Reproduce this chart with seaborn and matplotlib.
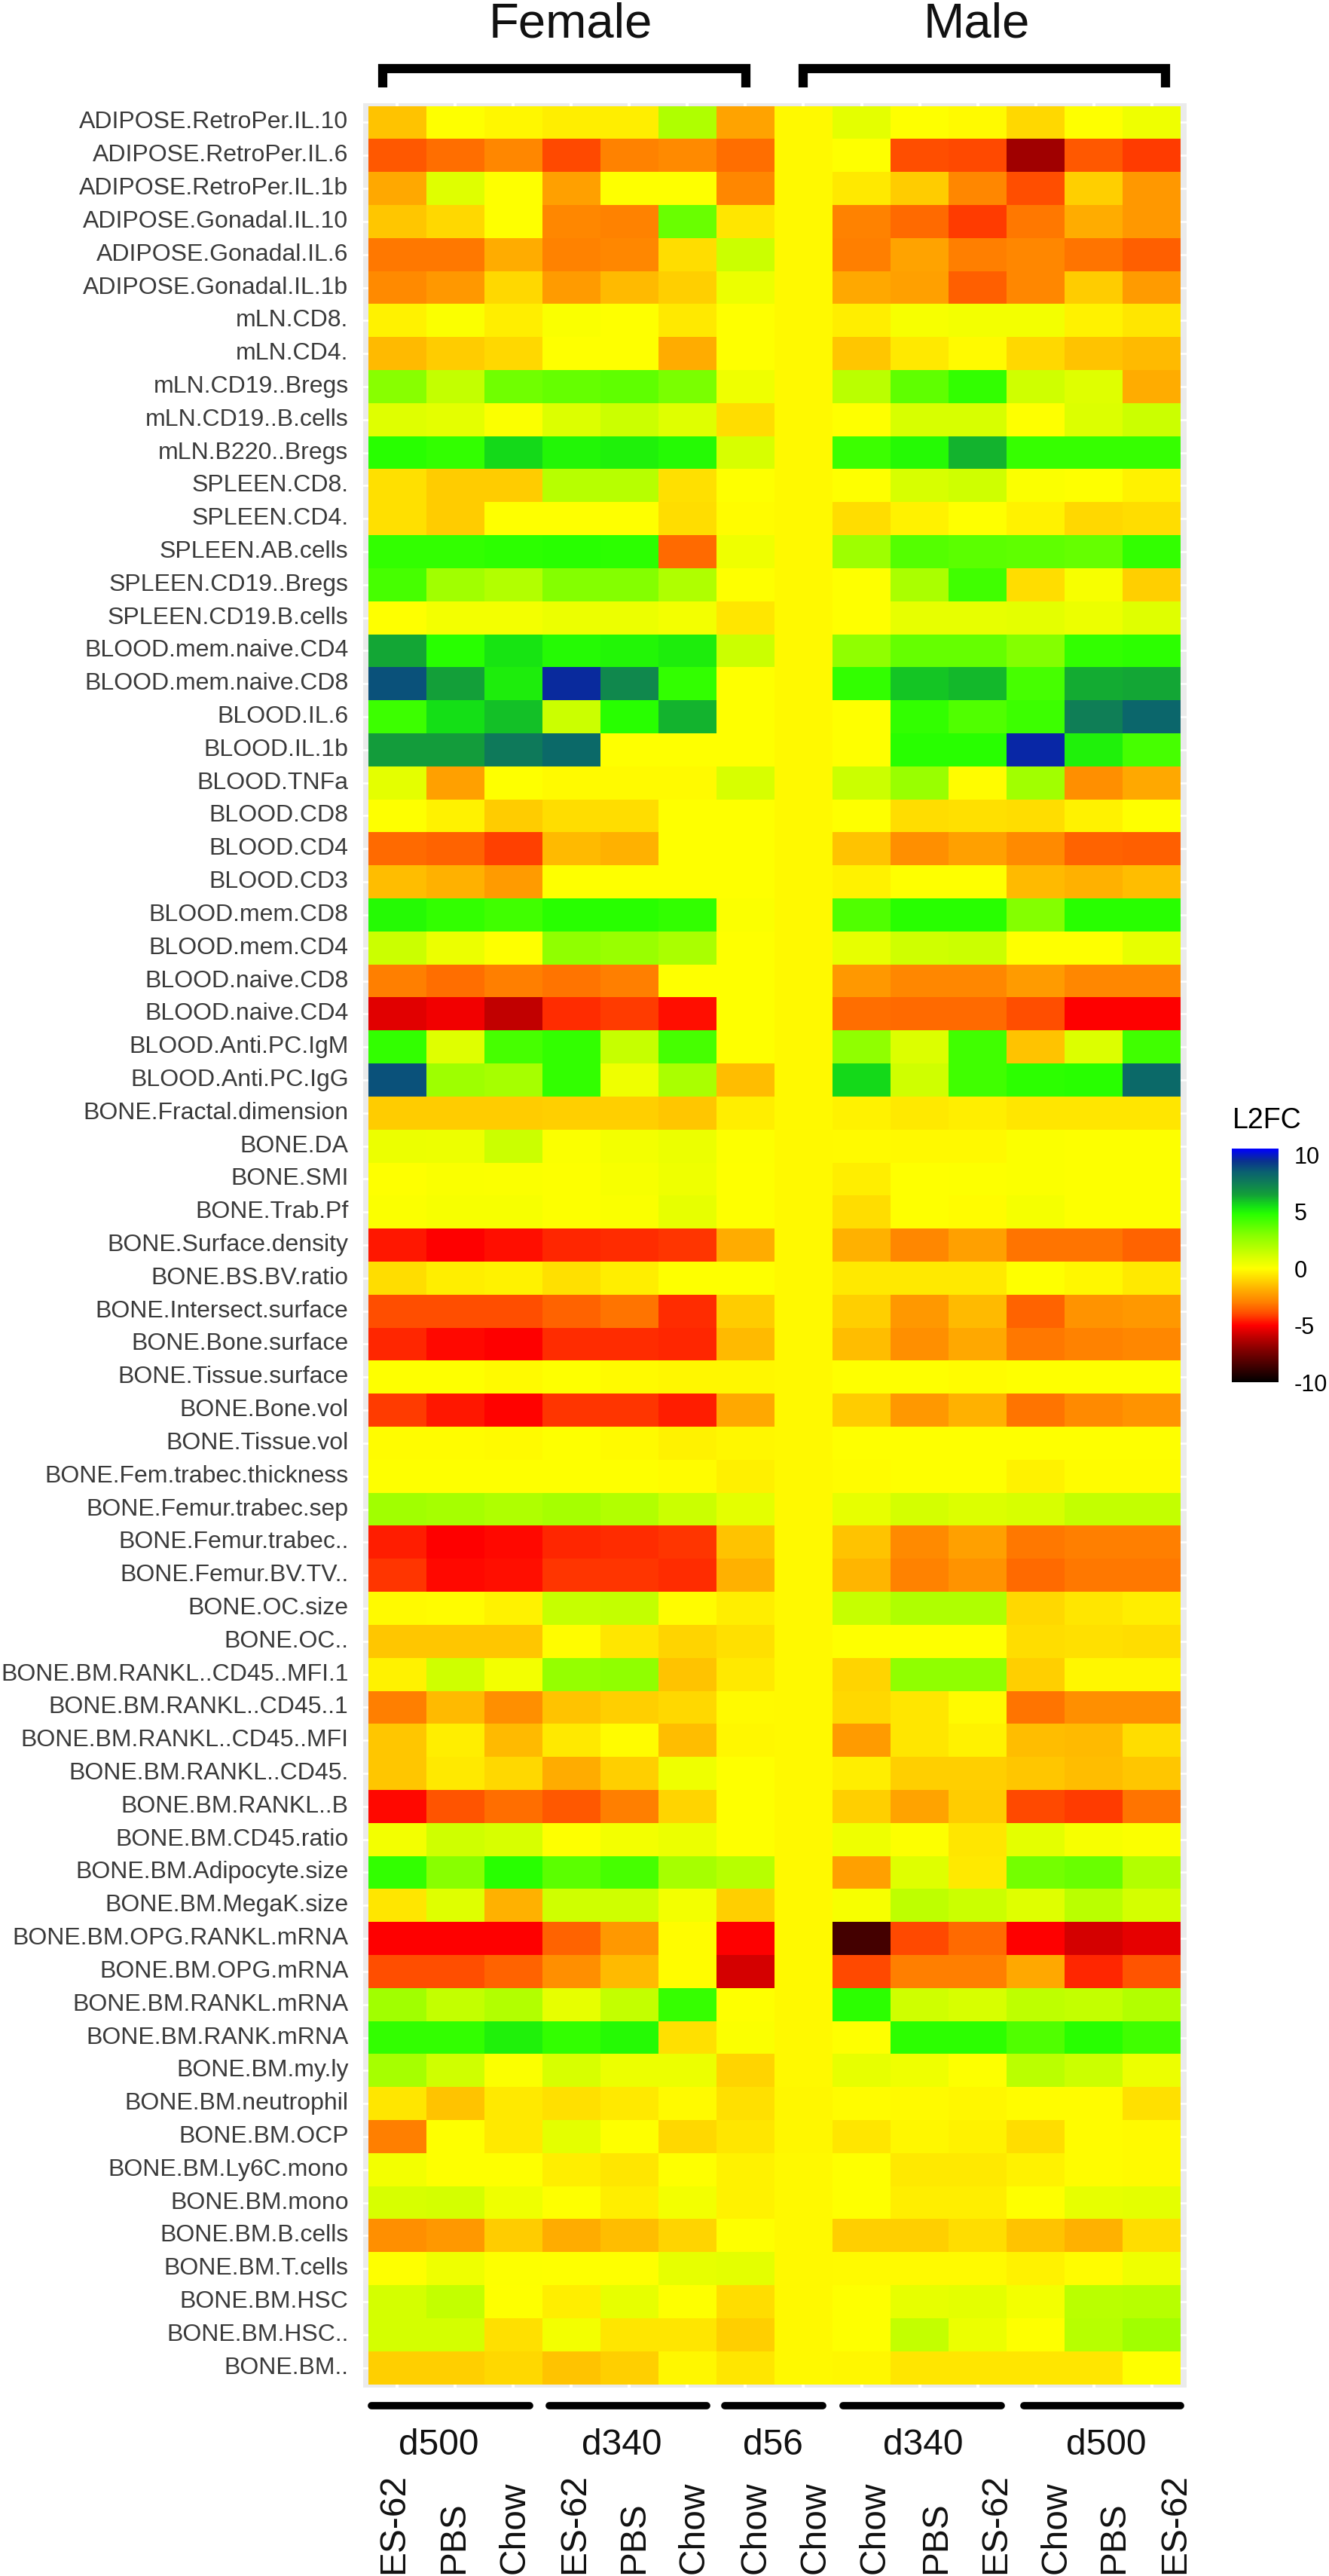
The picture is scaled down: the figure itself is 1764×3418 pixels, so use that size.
import numpy as np
import pandas as pd
import matplotlib
matplotlib.use("Agg")
import matplotlib.pyplot as plt
from matplotlib.colors import LinearSegmentedColormap
import seaborn as sns

column_keys = ["F.d500.ES62", "F.d500.PBS", "F.d500.Chow", "F.d340.ES62", "F.d340.PBS", "F.d340.Chow",
               "F.d56.Chow", "M.d56.Chow", "M.d340.Chow", "M.d340.PBS", "M.d340.ES62",
               "M.d500.Chow", "M.d500.PBS", "M.d500.ES62"]
diet_labels = ["ES-62", "PBS", "Chow", "ES-62", "PBS", "Chow", "Chow", "Chow", "Chow", "PBS", "ES-62",
               "Chow", "PBS", "ES-62"]
time_labels = ["d500", "d340", "d56", "d340", "d500"]
sex_labels = ["Female", "Male"]

adipose_labels = ["ADIPOSE.RetroPer.IL.10", "ADIPOSE.RetroPer.IL.6", "ADIPOSE.RetroPer.IL.1b",
                  "ADIPOSE.Gonadal.IL.10", "ADIPOSE.Gonadal.IL.6", "ADIPOSE.Gonadal.IL.1b"]
adipose_values = [
    [-1.4, 0, -.2, -.4, -.4, 2, -2.1, -.15, .7, 0, -.1, -.9, 0, .4],
    [-3.7, -3.3, -2.8, -4, -2.9, -2.7, -3.3, -.15, 0, -3.9, -4, -6.6, -3.7, -4.2],
    [-2, .8, 0, -2.2, 0, 0, -2.8, -.15, -.5, -1.2, -2.8, -3.9, -1.1, -2.4],
    [-1.3, -.9, 0, -2.8, -2.9, 3.5, -.6, -.15, -2.9, -3.4, -4.2, -3.1, -1.9, -2.4],
    [-3.1, -3.1, -1.9, -2.9, -2.8, -.8, 1.3, -.15, -3, -2.1, -3, -2.8, -3.2, -3.6],
    [-2.7, -2.4, -.9, -2.3, -1.6, -1.1, .5, -.15, -2, -2.2, -3.6, -2.8, -1.2, -2.3],
]
mln_labels = ["mLN.CD8.", "mLN.CD4.", "mLN.CD19..Bregs", "mLN.CD19..B.cells", "mLN.B220..Bregs"]
mln_values = [
    [-.3, .1, -.4, .15, 0, -.5, 0, -.15, -.4, .2, .3, .3, -.3, -.6],
    [-1.6, -1.2, -.9, 0, 0, -1.9, 0, -.15, -1.3, -.5, -.1, -.9, -1.4, -1.6],
    [2.9, 1.5, 3.4, 3.6, 3.7, 3.2, .4, -.15, 1.7, 3.7, 4.6, 1.2, .8, -1.9],
    [.8, .7, .1, .9, 1.3, .8, -.8, -.15, 0, 1, 1, 0, .9, 1.3],
    [4.8, 4.6, 5.6, 5, 5.1, 4.9, 1, -.15, 4.4, 4.9, 6.2, 4.5, 4.5, 4.5],
]
spleen_labels = ["SPLEEN.CD8.", "SPLEEN.CD4.", "SPLEEN.AB.cells", "SPLEEN.CD19..Bregs", "SPLEEN.CD19.B.cells"]
spleen_values = [
    [-.7, -1.2, -1.2, 1.8, 1.8, -.7, 0, -.15, 0, 1, 1.2, .1, 0, -.3],
    [-.7, -1.2, 0, 0, 0, -.8, -.05, -.15, -.8, -.3, 0, -.3, -.9, -.8],
    [4.6, 4.6, 4.7, 4.8, 4.7, -3.4, .4, -.15, 2.4, 3.9, 3.8, 3.7, 3.6, 4.6],
    [4.2, 2.3, 1.9, 3, 3, 2, 0, -.15, 0, 2.1, 4.3, -.8, .2, -1.1],
    [0, .3, .3, .5, .5, .3, -.6, -.15, 0, .6, .6, .7, .5, .8],
]
blood_labels = ["BLOOD.mem.naive.CD4", "BLOOD.mem.naive.CD8", "BLOOD.IL.6", "BLOOD.IL.1b", "BLOOD.TNFa",
                "BLOOD.CD8", "BLOOD.CD4", "BLOOD.CD3", "BLOOD.mem.CD8", "BLOOD.mem.CD4",
                "BLOOD.naive.CD8", "BLOOD.naive.CD4", "BLOOD.Anti.PC.IgM", "BLOOD.Anti.PC.IgG"]
blood_values = [
    [6.4, 4.8, 5.4, 4.9, 5, 5.2, 1.3, -.15, 2.7, 3.6, 3.6, 3, 4.6, 4.7],
    [8.8, 6.5, 5.2, 9.6, 7.2, 4.6, 0, -.15, 4.6, 5.9, 6.1, 4.2, 6.3, 6.4],
    [4.4, 5.5, 6, 1.3, 4.8, 6.2, 0, -.15, 0, 4.6, 4, 4.4, 7.5, 8.3],
    [6.6, 6.6, 7.7, 8.2, 0, 0, 0, -.15, 0, 4.8, 4.8, 9.7, 5.1, 4.2],
    [.7, -2.2, 0, -.1, -.1, -.1, 1, -.15, 1.3, 2.5, -.05, 2.3, -2.6, -2],
    [0, -.3, -1.2, -.8, -.8, 0, 0, -.15, 0, -.8, -.7, -.8, -.3, 0],
    [-3.4, -3.5, -4.1, -1.6, -1.8, 0, 0, -.15, -1.4, -2.6, -2.2, -2.7, -3.5, -3.6],
    [-1.5, -1.8, -2.3, 0, 0, 0, 0, -.15, -.3, 0, 0, -1.6, -1.8, -1.5],
    [4.9, 4.6, 4.3, 4.8, 4.8, 4.6, .1, -.15, 4, 4.8, 4.8, 3, 4.8, 4.8],
    [1.3, .5, 0, 2.7, 2.5, 2.1, 0, -.15, .6, 1.2, 1.3, 0, 0, .6],
    [-3, -3.3, -3, -3.2, -3, 0, 0, -.15, -2.4, -2.8, -2.8, -2.3, -2.8, -2.8],
    [-5.5, -5.2, -6, -4.4, -4.2, -4.8, 0, -.15, -3.3, -3.4, -3.4, -3.9, -5, -5],
    [4.6, .8, 4.2, 4.6, 1.4, 4.2, 0, -.15, 2.7, .9, 4.3, -1.4, .9, 4.3],
    [8.8, 2.4, 2.2, 4.6, .4, 2.1, -1.5, -.15, 5.6, 1.2, 4.3, 4.7, 4.8, 8.2],
]
bone_labels = ["BONE.Fractal.dimension", "BONE.DA", "BONE.SMI", "BONE.Trab.Pf", "BONE.Surface.density",
               "BONE.BS.BV.ratio", "BONE.Intersect.surface", "BONE.Bone.surface", "BONE.Tissue.surface",
               "BONE.Bone.vol", "BONE.Tissue.vol", "BONE.Fem.trabec.thickness", "BONE.Femur.trabec.sep",
               "BONE.Femur.trabec..", "BONE.Femur.BV.TV..", "BONE.OC.size", "BONE.OC.."]
bone_values = [
    [-1.2, -1.2, -1.2, -1.1, -1.1, -1.3, -.4, -.15, -.3, -.5, -.4, -.6, -.6, -.6],
    [.5, .45, 1.3, .1, .3, .5, .05, -.15, -.1, -.15, -.15, .1, .05, .05],
    [0, .15, .1, .05, .2, .4, 0, -.15, -.4, 0, .05, .1, .05, .05],
    [.1, .2, .2, .05, .15, .6, 0, -.15, -.8, 0, -.05, .25, .05, .05],
    [-4.7, -5, -4.8, -4.5, -4.4, -4.3, -1.9, -.15, -1.8, -2.8, -2.2, -3.2, -3.2, -3.5],
    [-.8, -.4, -.3, -.7, -.4, 0, 0, -.15, -.5, -.5, -.5, 0, -.2, -.5],
    [-3.9, -3.9, -3.9, -3.5, -3.2, -4.4, -1.2, -.15, -1.1, -2.4, -1.6, -3.5, -2.5, -2.4],
    [-4.5, -4.9, -5, -4.4, -4.4, -4.5, -1.6, -.15, -1.5, -2.6, -2, -3.1, -2.9, -2.8],
    [0, 0, -.1, 0, -.1, -.2, -.2, -.15, 0, 0, -.05, 0, 0, 0],
    [-4.2, -4.7, -4.95, -4.3, -4.3, -4.6, -2, -.15, -1.2, -2.4, -1.8, -3.2, -2.7, -2.5],
    [-.05, -.05, -.1, 0, -.1, -.3, -.2, -.15, 0, 0, 0, 0, 0, 0],
    [0, 0, 0, 0, 0, -.05, -.35, -.15, -.05, 0, 0, -.3, -.05, -.05],
    [2.3, 2.2, 2, 2.2, 1.9, 1.3, .7, -.15, .6, 1.1, .9, 1, 1.5, 1.5],
    [-4.6, -5, -4.9, -4.5, -4.4, -4.3, -1.4, -.15, -1.4, -2.7, -2.2, -3.1, -3, -3],
    [-4.3, -4.9, -4.8, -4.3, -4.3, -4.4, -1.8, -.15, -1.7, -2.9, -2.5, -3.4, -3.1, -3.1],
    [-.1, -.05, -.3, 1.4, 1.5, -.05, -.4, -.15, 1.4, 2, 2, -.9, -.6, -.4],
    [-1.3, -1.3, -1.3, -.05, -.6, -1, -.7, -.15, 0, 0, 0, -.8, -.7, -.8],
]
marrow_labels = ["BONE.BM.RANKL..CD45..MFI.1", "BONE.BM.RANKL..CD45..1", "BONE.BM.RANKL..CD45..MFI",
                 "BONE.BM.RANKL..CD45.", "BONE.BM.RANKL..B", "BONE.BM.CD45.ratio", "BONE.BM.Adipocyte.size",
                 "BONE.BM.MegaK.size", "BONE.BM.OPG.RANKL.mRNA", "BONE.BM.OPG.mRNA", "BONE.BM.RANKL.mRNA",
                 "BONE.BM.RANK.mRNA", "BONE.BM.my.ly", "BONE.BM.neutrophil", "BONE.BM.OCP",
                 "BONE.BM.Ly6C.mono", "BONE.BM.mono", "BONE.BM.B.cells", "BONE.BM.T.cells", "BONE.BM.HSC",
                 "BONE.BM.HSC..", "BONE.BM.."]
marrow_values = [
    [-.3, 1.2, .3, 2.6, 2.7, -1.4, -.5, -.15, -1, 2.7, 2.7, -1.1, -.2, -.2],
    [-3, -1.6, -2.6, -1.4, -1.1, -.9, -.1, -.15, -.9, -.6, -.1, -3.2, -2.6, -2.6],
    [-1.3, -.4, -1.6, -.5, -.05, -1.5, -.2, -.15, -2.3, -.6, -.3, -1.5, -1.6, -.8],
    [-1.3, -.5, -.9, -1.9, -1.1, .4, 0, -.15, -.4, -1.1, -1.1, -1.3, -1.5, -1.3],
    [-4.9, -3.8, -3.3, -3.7, -3, -1, 0, -.15, -1.1, -2.1, -1.2, -4, -4.2, -3.2],
    [.3, 1.2, 1, 0, .3, .5, 0, -.15, .4, .05, -.6, .7, .2, .1],
    [4.6, 2.9, 4.8, 3.8, 4.2, 2.2, 1.8, -.15, -2.2, .8, -.5, 3.3, 3.5, 1.9],
    [-.6, .8, -1.8, 1.2, 1.2, .3, -1.1, -.15, .2, 1.6, 1.3, .8, 1.7, 1.1],
    [-5, -5, -5, -3.5, -2.4, -.05, -5, -.15, -8.5, -4, -3.4, -5, -5.7, -5.4],
    [-3.9, -3.9, -3.5, -2.6, -1.6, -.05, -5.7, -.15, -4, -3, -3, -2, -4.5, -3.8],
    [2.3, 1.5, 1.9, .6, 1.5, 4.5, 0, -.15, 4.7, 1.2, 1, 1.6, 1.5, 1.9],
    [4.6, 4.6, 5.1, 4.6, 4.9, -.7, .1, -.15, 0, 4.7, 4.7, 4, 4.8, 4.3],
    [2.2, 1.2, .1, 1, .5, .5, -1, -.15, .6, .4, .05, 1.7, 1.3, .5],
    [-.6, -1.4, -.5, -.7, -.5, -.1, -.7, -.2, -.05, -.1, -.2, -.05, -.05, -.7],
    [-3, 0, -.5, .7, 0, -.9, -.6, -.2, -.6, -.2, -.3, -.8, -.05, -.1],
    [.3, 0, 0, -.4, -.6, 0, -.3, -.15, 0, -.5, -.5, -.3, -.05, -.1],
    [1, 1.1, .4, 0, -.4, .3, -.3, -.15, 0, -.4, -.4, 0, .6, .7],
    [-2.6, -2.4, -1.2, -1.9, -1.5, -1, 0, -.15, -1.1, -1.1, -.8, -1.4, -1.8, -.8],
    [0, .4, .05, 0, 0, .6, .7, -.15, -.1, -.1, -.1, -.3, -.05, .4],
    [1.1, 1.5, 0, -.4, .6, 0, -.8, -.15, 0, .6, .7, .3, 1.7, 1.8],
    [1.1, 1.1, -.7, .3, -.6, -.6, -1.1, -.15, 0, 1.5, .5, 0, 1.8, 2.3],
    [-1.1, -1.1, -.9, -1.4, -1.1, -.2, -.6, -.15, -.2, -.6, -.6, -.6, -.6, 0],
]

scale_min, scale_max = -10, 10.55
scale_stops = [(-10, "#000000"), (-9, "#2e0000"), (-8, "#5c0000"), (-7, "#8c0000"), (-6, "#c20000"),
               (-5, "#ff0000"), (-4, "#ff4a00"), (-3, "#ff7f00"), (-2, "#ffa800"), (-1, "#ffd400"),
               (0, "#ffff00"), (1, "#d8ff00"), (2, "#aeff00"), (3, "#84ff00"), (4, "#50ff00"),
               (4.8, "#28ff00"), (5.5, "#14e015"), (6.5, "#13a038"), (7.5, "#0f7f55"), (8.5, "#0a6070"),
               (9.5, "#0a3090"), (10.55, "#0000ff")]

sns.set_theme(style="white")
plt.rcParams["font.family"] = ["Liberation Sans", "DejaVu Sans"]

W, H = 1765, 3418
fig = plt.figure(figsize=(W / 100, H / 100), dpi=100, facecolor="white")

def box(l, t, r, b):
    return [l / W, 1 - b / H, (r - l) / W, (b - t) / H]

table = pd.DataFrame(
    adipose_values + mln_values + spleen_values + blood_values + bone_values + marrow_values,
    index=adipose_labels + mln_labels + spleen_labels + blood_labels + bone_labels + marrow_labels,
    columns=column_keys,
)
cmap = LinearSegmentedColormap.from_list(
    "l2fc", [((v - scale_min) / (scale_max - scale_min), c) for v, c in scale_stops], N=512)

ax = fig.add_axes(box(482, 136.6, 1575, 3167.5))
cax = fig.add_axes(box(1635, 1524, 1697, 1834))
sns.heatmap(table, ax=ax, cbar_ax=cax, cmap=cmap, vmin=scale_min, vmax=scale_max,
            linewidths=0, xticklabels=False, yticklabels=True)

ax.set_facecolor("#ebebeb")
ax.set_xlim(-0.085, 14.1)
ax.set_ylim(69.09, -0.09)
ax.set_xticks(np.arange(14) + 0.5)
ax.set_yticks(np.arange(69) + 0.5)
ax.set_xticklabels([])
ax.set_yticklabels(table.index, rotation=0, fontsize=23, color="#3a3a3a", ha="right")
ax.tick_params(axis="both", length=0, pad=14)
ax.set_axisbelow(True)
ax.grid(True, axis="x", color="white", linewidth=2.9)
ax.grid(True, axis="y", color="white", linewidth=1.8)
ax.set_xlabel("")
ax.set_ylabel("")
for s in ax.spines.values():
    s.set_visible(False)

cbar = ax.collections[0].colorbar
cbar.outline.set_visible(False)
cbar.set_ticks([-10, -5, 0, 5, 10])
cbar.set_ticklabels(["-10", "-5", "0", "5", "10"])
cax.tick_params(axis="y", left=True, right=True, labelright=True, labelleft=False, direction="in",
                length=8.6, width=1, color="white", labelsize=22, labelcolor="black", pad=15)
fig.text(1636 / W, 1 - 1487 / H, "L2FC", fontsize=27, color="black", ha="left", va="center")

# annotation layer, in reference pixels
over = fig.add_axes([0, 0, 1, 1], facecolor="none")
over.set_xlim(0, W)
over.set_ylim(H, 0)
over.axis("off")

for label, cx in zip(sex_labels, [757, 1296]):
    over.text(cx, 50, label, fontsize=47, color="#111111", ha="center", va="baseline")
for x0, x1 in [(508.5, 990), (1066, 1547)]:
    over.plot([x0, x0, x1, x1], [116, 91, 91, 116], color="black", lw=8.8,
              solid_capstyle="butt", solid_joinstyle="miter")
for x0, x1 in [(488, 708), (724, 943), (957, 1097), (1114, 1334), (1354, 1572)]:
    over.plot([x0 + 5, x1 - 5], [3192, 3192], color="black", lw=7, solid_capstyle="round")
for label, cx in zip(time_labels, [582, 825, 1026, 1225, 1468]):
    over.text(cx, 3257, label, fontsize=34.5, color="#111111", ha="center", va="baseline")
for label, bx in zip(diet_labels, [535, 615, 696, 775, 854, 934, 1016, 1095, 1174, 1255, 1334, 1415, 1491, 1572]):
    over.text(bx, 3415, label, fontsize=34.5, color="#111111", rotation=90, rotation_mode="anchor",
              ha="left", va="baseline")

fig.savefig("out.png", dpi=100, facecolor="white")
